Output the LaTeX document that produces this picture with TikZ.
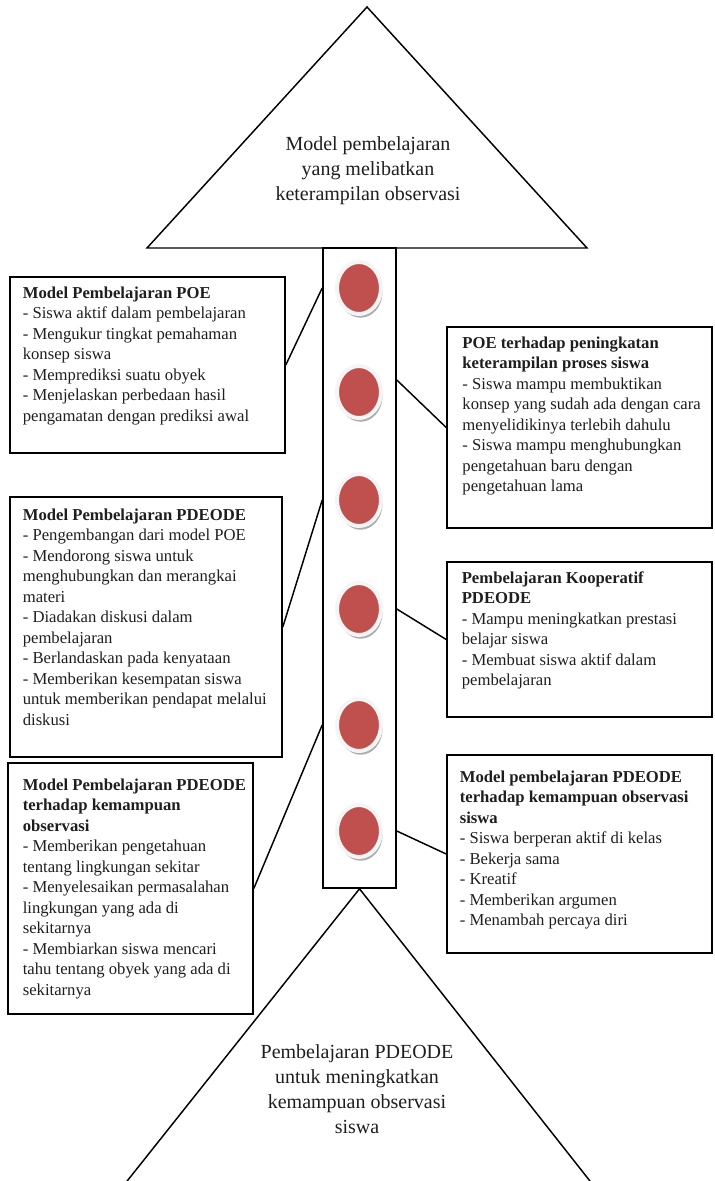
\documentclass[tikz,border=0pt]{standalone}
\usepackage{fontspec}
\setmainfont{Liberation Serif}
\usetikzlibrary{positioning,fit,shapes.geometric,shadows}
\definecolor{dotred}{RGB}{192,80,77}
\definecolor{ink}{RGB}{30,30,30}

\tikzset{
    frame/.style={draw, line width=1.2pt, inner sep=0pt},
    info/.style={anchor=north west, align=left, inner xsep=10pt, inner ysep=7.5pt,
        text=ink, font=\fontsize{12.5}{15.4}\selectfont},
    dot/.style={ellipse, fill=dotred, draw=gray!8, line width=3pt,
        minimum width=33pt, minimum height=39pt,
        drop shadow={shadow xshift=1.2pt, shadow yshift=-2.8pt, fill=gray!65, opacity=1}},
    title/.style={align=center, text=ink, font=\fontsize{15}{18.75}\selectfont},
    link/.style={line width=1.1pt}
}

\begin{document}
\begin{tikzpicture}[x=0.75pt,y=-0.75pt]
        \clip (0,0) rectangle (714,1181);
        % top triangle
        \draw[link] (367,7) -- (587,248) -- (147,248) -- cycle;
        \node[title] (goal) at (368,171) {Model pembelajaran\\yang melibatkan\\keterampilan observasi};

        % column with the dots
        \node[frame, fit={(323,248) (396,888)}] (col) {};
        \foreach \i/\y in {1/288,2/392,3/500,4/609,5/725,6/831}
            \node[dot] (c\i) at (359,\y) {};

        % bottom triangle
        \draw[link] (116,1195) -- (col.south) -- (601,1195);
        \node[title] (base) at (357,1089) {Pembelajaran PDEODE\\untuk meningkatkan\\kemampuan observasi\\siswa};

        % left boxes
        \node[frame, fit={(10,277) (285,453)}] (poe) {};
        \node[info] (poetxt) at (poe.north west) {\textbf{Model Pembelajaran POE}\\- Siswa aktif dalam pembelajaran\\- Mengukur tingkat pemahaman\\konsep siswa\\- Memprediksi suatu obyek\\- Menjelaskan perbedaan hasil\\pengamatan dengan prediksi awal};

        \node[frame, fit={(10,497) (282,757)}] (pdeode) {};
        \node[info, yshift=-1.5pt] (pdeodetxt) at (pdeode.north west) {\textbf{Model Pembelajaran PDEODE}\\- Pengembangan dari model POE\\- Mendorong siswa untuk\\menghubungkan dan merangkai\\materi\\- Diadakan diskusi dalam\\pembelajaran\\- Berlandaskan pada kenyataan\\- Memberikan kesempatan siswa\\untuk memberikan pendapat melalui\\diskusi};

        \node[frame, fit={(8,763) (253,1014)}] (obs) {};
        \node[info, xshift=1.5pt, yshift=-4.5pt] (obstxt) at (obs.north west) {\textbf{Model Pembelajaran PDEODE}\\\textbf{terhadap kemampuan}\\\textbf{observasi}\\- Memberikan pengetahuan\\tentang lingkungan sekitar\\- Menyelesaikan permasalahan\\lingkungan yang ada di\\sekitarnya\\- Membiarkan siswa mencari\\tahu tentang obyek yang ada di\\sekitarnya};

        % right boxes
        \node[frame, fit={(447,327) (712,528)}] (kps) {};
        \node[info, xshift=2pt] (kpstxt) at (kps.north west) {\textbf{POE terhadap peningkatan}\\\textbf{keterampilan proses siswa}\\- Siswa mampu membuktikan\\konsep yang sudah ada dengan cara\\menyelidikinya terlebih dahulu\\- Siswa mampu menghubungkan\\pengetahuan baru dengan\\pengetahuan lama};

        \node[frame, fit={(447,562) (712,717)}] (koop) {};
        \node[info, xshift=1.5pt] (kooptxt) at (koop.north west) {\textbf{Pembelajaran Kooperatif}\\\textbf{PDEODE}\\- Mampu meningkatkan prestasi\\belajar siswa\\- Membuat siswa aktif dalam\\pembelajaran};

        \node[frame, fit={(447,755) (712,953)}] (obss) {};
        \node[info, yshift=-4.5pt] (obsstxt) at (obss.north west) {\textbf{Model pembelajaran PDEODE}\\\textbf{terhadap kemampuan observasi}\\\textbf{siswa}\\- Siswa berperan aktif di kelas\\- Bekerja sama\\- Kreatif\\- Memberikan argumen\\- Menambah percaya diri};

        % connectors
        \draw[link] (poe.east) -- (c1 -| col.west);
        \draw[link] (kps.west) -- ([yshift=9pt]c2 -| col.east);
        \draw[link] (pdeode.east) -- (c3 -| col.west);
        \draw[link] (koop.west) -- (c4 -| col.east);
        \draw[link] (obs.east) -- (c5 -| col.west);
        \draw[link] (obss.west) -- (c6 -| col.east);
\end{tikzpicture}
\end{document}
